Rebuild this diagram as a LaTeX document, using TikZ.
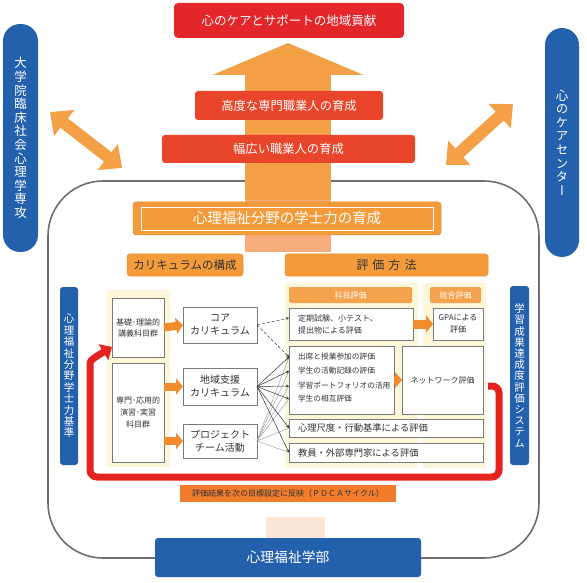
\documentclass[tikz,border=0pt]{standalone}
\usepackage{fontspec}
\setmainfont{Noto Sans CJK JP}
\newfontfamily\jpv{Noto Sans CJK JP}[RawFeature=+vert]
\usetikzlibrary{arrows.meta}
\definecolor{redtop}{HTML}{E3262A}
\definecolor{redmid}{HTML}{E9452B}
\definecolor{orarrow}{HTML}{F4A047}
\definecolor{orlight}{HTML}{F6AD7B}
\definecolor{orbox}{HTML}{F39B3A}
\definecolor{orline}{HTML}{E68A2C}
\definecolor{orhead}{HTML}{F5A24E}
\definecolor{bluebar}{HTML}{2461AD}
\definecolor{panel}{HTML}{FCF6DA}
\definecolor{smarrow}{HTML}{F28A2E}
\definecolor{fbred}{HTML}{E42320}
\definecolor{pdca}{HTML}{F07C2C}
\definecolor{peach}{HTML}{FCE6D6}
\definecolor{gline}{HTML}{6E6E6E}
\definecolor{boxline}{HTML}{7A7A7A}
\definecolor{txt}{HTML}{333333}
\newcommand\bx[7][]{\node[anchor=north west, minimum width={#5pt-#3pt}, minimum height={#6pt-#4pt}, #1] (#2) at (#3,#4) {#7};}
\begin{document}
\begin{tikzpicture}[x=1pt,y=-1pt,
  every node/.style={inner sep=0pt, outer sep=0pt},
  redbox/.style={fill=redtop, rounded corners=4pt, text=white},
  midbox/.style={fill=redmid, rounded corners=3pt, text=white},
  orbx/.style={fill=orbox, draw=orline, line width=0.5pt, rounded corners=3pt},
  bluebx/.style={fill=bluebar, text=white},
  box/.style={draw=boxline, line width=0.6pt, fill=white, text=txt, align=center},
  hdr/.style={fill=orhead, rounded corners=2pt, text=white, font=\fontsize{8}{10}\selectfont},
  item/.style={anchor=west, inner xsep=9pt, text=txt, font=\fontsize{7.7}{10}\selectfont},
  blockarrow/.style={smarrow, line width=8pt, -{Triangle[length=7pt,width=16pt]}},
  dk/.style={draw=black!80, line width=0.5pt, -{Stealth[length=3pt,width=3pt]}},
  gy/.style={draw=black!38, line width=0.45pt},
  dsh/.style={draw=black!75, line width=0.5pt, densely dashed, -{Stealth[length=3pt,width=3pt]}},
  dbl/.style={orarrow, line width=12pt, {Triangle[length=18pt,width=32pt]}-{Triangle[length=18pt,width=32pt]}}]
\useasboundingbox (0,0) rectangle (587,583);

% big rounded frame
\draw[gline, line width=1.6pt, rounded corners=55pt] (48,181) rectangle (539,558);
\fill[peach] (266,517) rectangle (325,538);

% side bars
\bx[bluebx, rounded corners=17pt, align=center, font=\jpv\fontsize{12.5}{13.6}\selectfont]{L}{3}{24}{38}{252}{大\\学\\院\\臨\\床\\社\\会\\心\\理\\学\\専\\攻}
\bx[bluebx, rounded corners=17pt, align=center, font=\jpv\fontsize{12.5}{13.6}\selectfont]{R}{545}{28}{579}{257}{心\\の\\ケ\\ア\\セ\\ン\\タ\\ー}

% double arrows
\coordinate (la1) at (50,112); \coordinate (la2) at (122,168);
\coordinate (ra1) at (513,104); \coordinate (ra2) at (446,165);
\draw[dbl] (la1) -- (la2);
\draw[dbl] (ra1) -- (ra2);

% big up arrow
\coordinate (upb) at (288,252); \coordinate (upt) at (288,43);
\draw[orarrow, line width=86pt, -{Triangle[length=32pt,width=150pt]}] (upb) -- (upt);
\fill[orlight] (245,200) rectangle (331,252);

% top boxes
\bx[redbox, font=\fontsize{12.5}{14}\selectfont]{t1}{174}{3}{404}{38}{心のケアとサポートの地域貢献}
\bx[midbox, font=\fontsize{12.3}{14}\selectfont]{t2}{195}{91}{383}{120}{高度な専門職業人の育成}
\bx[midbox, font=\fontsize{12.3}{14}\selectfont]{t3}{162}{135}{415}{163}{幅広い職業人の育成}

% main orange boxes
\bx[orbx, text=white, font=\fontsize{14.5}{16}\selectfont]{gakushi}{133}{202}{441}{235}{心理福祉分野の学士力の育成}
\draw[white, line width=0.8pt] (141,207) rectangle (433,230);
\bx[orbx, text=txt, font=\fontsize{11.5}{13}\selectfont]{kari}{127}{254}{243}{276}{カリキュラムの構成}
\bx[orbx, text=txt, font=\fontsize{12}{13}\selectfont]{hyoka}{285}{254}{488}{276}{評\hspace{4pt}価\hspace{4pt}方\hspace{4pt}法}

% small blue bars
\bx[bluebx, rounded corners=3pt, align=center, font=\jpv\fontsize{10.5}{11.4}\selectfont]{SL}{60}{287}{78}{465}{心\\理\\福\\祉\\分\\野\\学\\士\\力\\基\\準}
\bx[bluebx, rounded corners=3pt, align=center, font=\jpv\fontsize{10.5}{11.2}\selectfont]{SR}{510}{286}{529}{465}{学\\習\\成\\果\\達\\成\\度\\評\\価\\シ\\ス\\テ\\ム}

% panels
\fill[panel] (107,290) rectangle (170,467);
\fill[panel] (285,283) rectangle (418,468);
\fill[panel] (423,283) rectangle (486,468);

% left column
\bx[box, font=\fontsize{8}{11}\selectfont]{kiso}{112}{298}{164}{357}{基礎･理論的\\講義科目群}
\bx[box, font=\fontsize{8}{12}\selectfont]{senmon}{112}{363}{164}{462}{専門･応用的\\演習･実習\\科目群}
\bx[box, font=\fontsize{10}{13}\selectfont]{core}{183}{307}{257}{343}{コア\\カリキュラム}
\bx[box, font=\fontsize{10}{13}\selectfont]{chiiki}{183}{368}{257}{405}{地域支援\\カリキュラム}
\bx[box, font=\fontsize{10}{13}\selectfont]{proj}{183}{424}{257}{458}{プロジェクト\\チーム活動}

\draw[blockarrow] (kiso.east) -- (core.west);
\draw[blockarrow] (senmon.east |- chiiki.west) -- (chiiki.west);
\draw[blockarrow] (senmon.east |- proj.west) -- (proj.west);

% evaluation side
\bx[hdr]{kamoku}{289}{287}{412}{303}{科目評価}
\bx[hdr]{sogo}{430}{287}{481}{303}{総合評価}
\bx[box, align=left, inner xsep=9pt, text width=106pt, font=\fontsize{8}{12}\selectfont]{teiki}{289}{308}{413}{340}{定期試験、小テスト、\\提出物による評価}
\bx[box, font=\fontsize{8}{12}\selectfont]{gpa}{433}{308}{483}{340}{GPAによる\\評価}
\bx[box]{items}{289}{346}{394}{414}{}
\bx[box, font=\fontsize{8}{10}\selectfont]{net}{402}{346}{483}{414}{ネットワーク評価}
\bx[box, align=left, inner xsep=9pt, text width=176pt, font=\fontsize{9.3}{11}\selectfont]{shinri}{289}{419}{483}{437}{心理尺度・行動基準による評価}
\bx[box, align=left, inner xsep=9pt, text width=176pt, font=\fontsize{9.3}{11}\selectfont]{kyoin}{289}{443}{483}{462}{教員・外部専門家による評価}

\node[item] (i1) at (289,357) {出席と授業参加の評価};
\node[item] (i2) at (289,371) {学生の活動記録の評価};
\node[item] (i3) at (289,386) {学習ポートフォリオの活用};
\node[item] (i4) at (289,399) {学生の相互評価};

\draw[blockarrow, line width=9pt, -{Triangle[length=7pt,width=17pt]}] (teiki.east) -- (gpa.west);
\draw[blockarrow, line width=9pt, -{Triangle[length=7pt,width=16pt]}] (items.east) -- (net.west);

% connectors
\foreach \t in {i1,i2,i3,i4,shinri,kyoin} \draw[gy] (proj.east) -- (\t.west);
\foreach \t in {i1,i2,i3,i4,shinri,kyoin} \draw[dk] (chiiki.east) -- (\t.west);
\draw[dsh] (core.east) -- ([yshift=6pt]teiki.west);
\draw[dsh] (core.east) -- (i1.west);

% feedback loop
\coordinate (fbs) at (488,386);
\coordinate (fbe) at (112,347);
\draw[fbred, line width=7pt, rounded corners=7pt, -{Triangle[length=10pt,width=18pt]}]
  (fbs) -- (499,386) -- (499,477) -- (90,477) -- (90,370) .. controls (90,360) and (97,356) .. (fbe);

\bx[fill=pdca, text=txt, font=\fontsize{8}{10}\selectfont]{pdcalbl}{180}{485}{396}{502}{評価結果を次の目標設定に反映（ＰＤＣＡサイクル）}

\bx[bluebx, rounded corners=3pt, font=\fontsize{13.8}{15}\selectfont]{gakubu}{155}{538}{421}{577}{心理福祉学部}
\end{tikzpicture}
\end{document}
